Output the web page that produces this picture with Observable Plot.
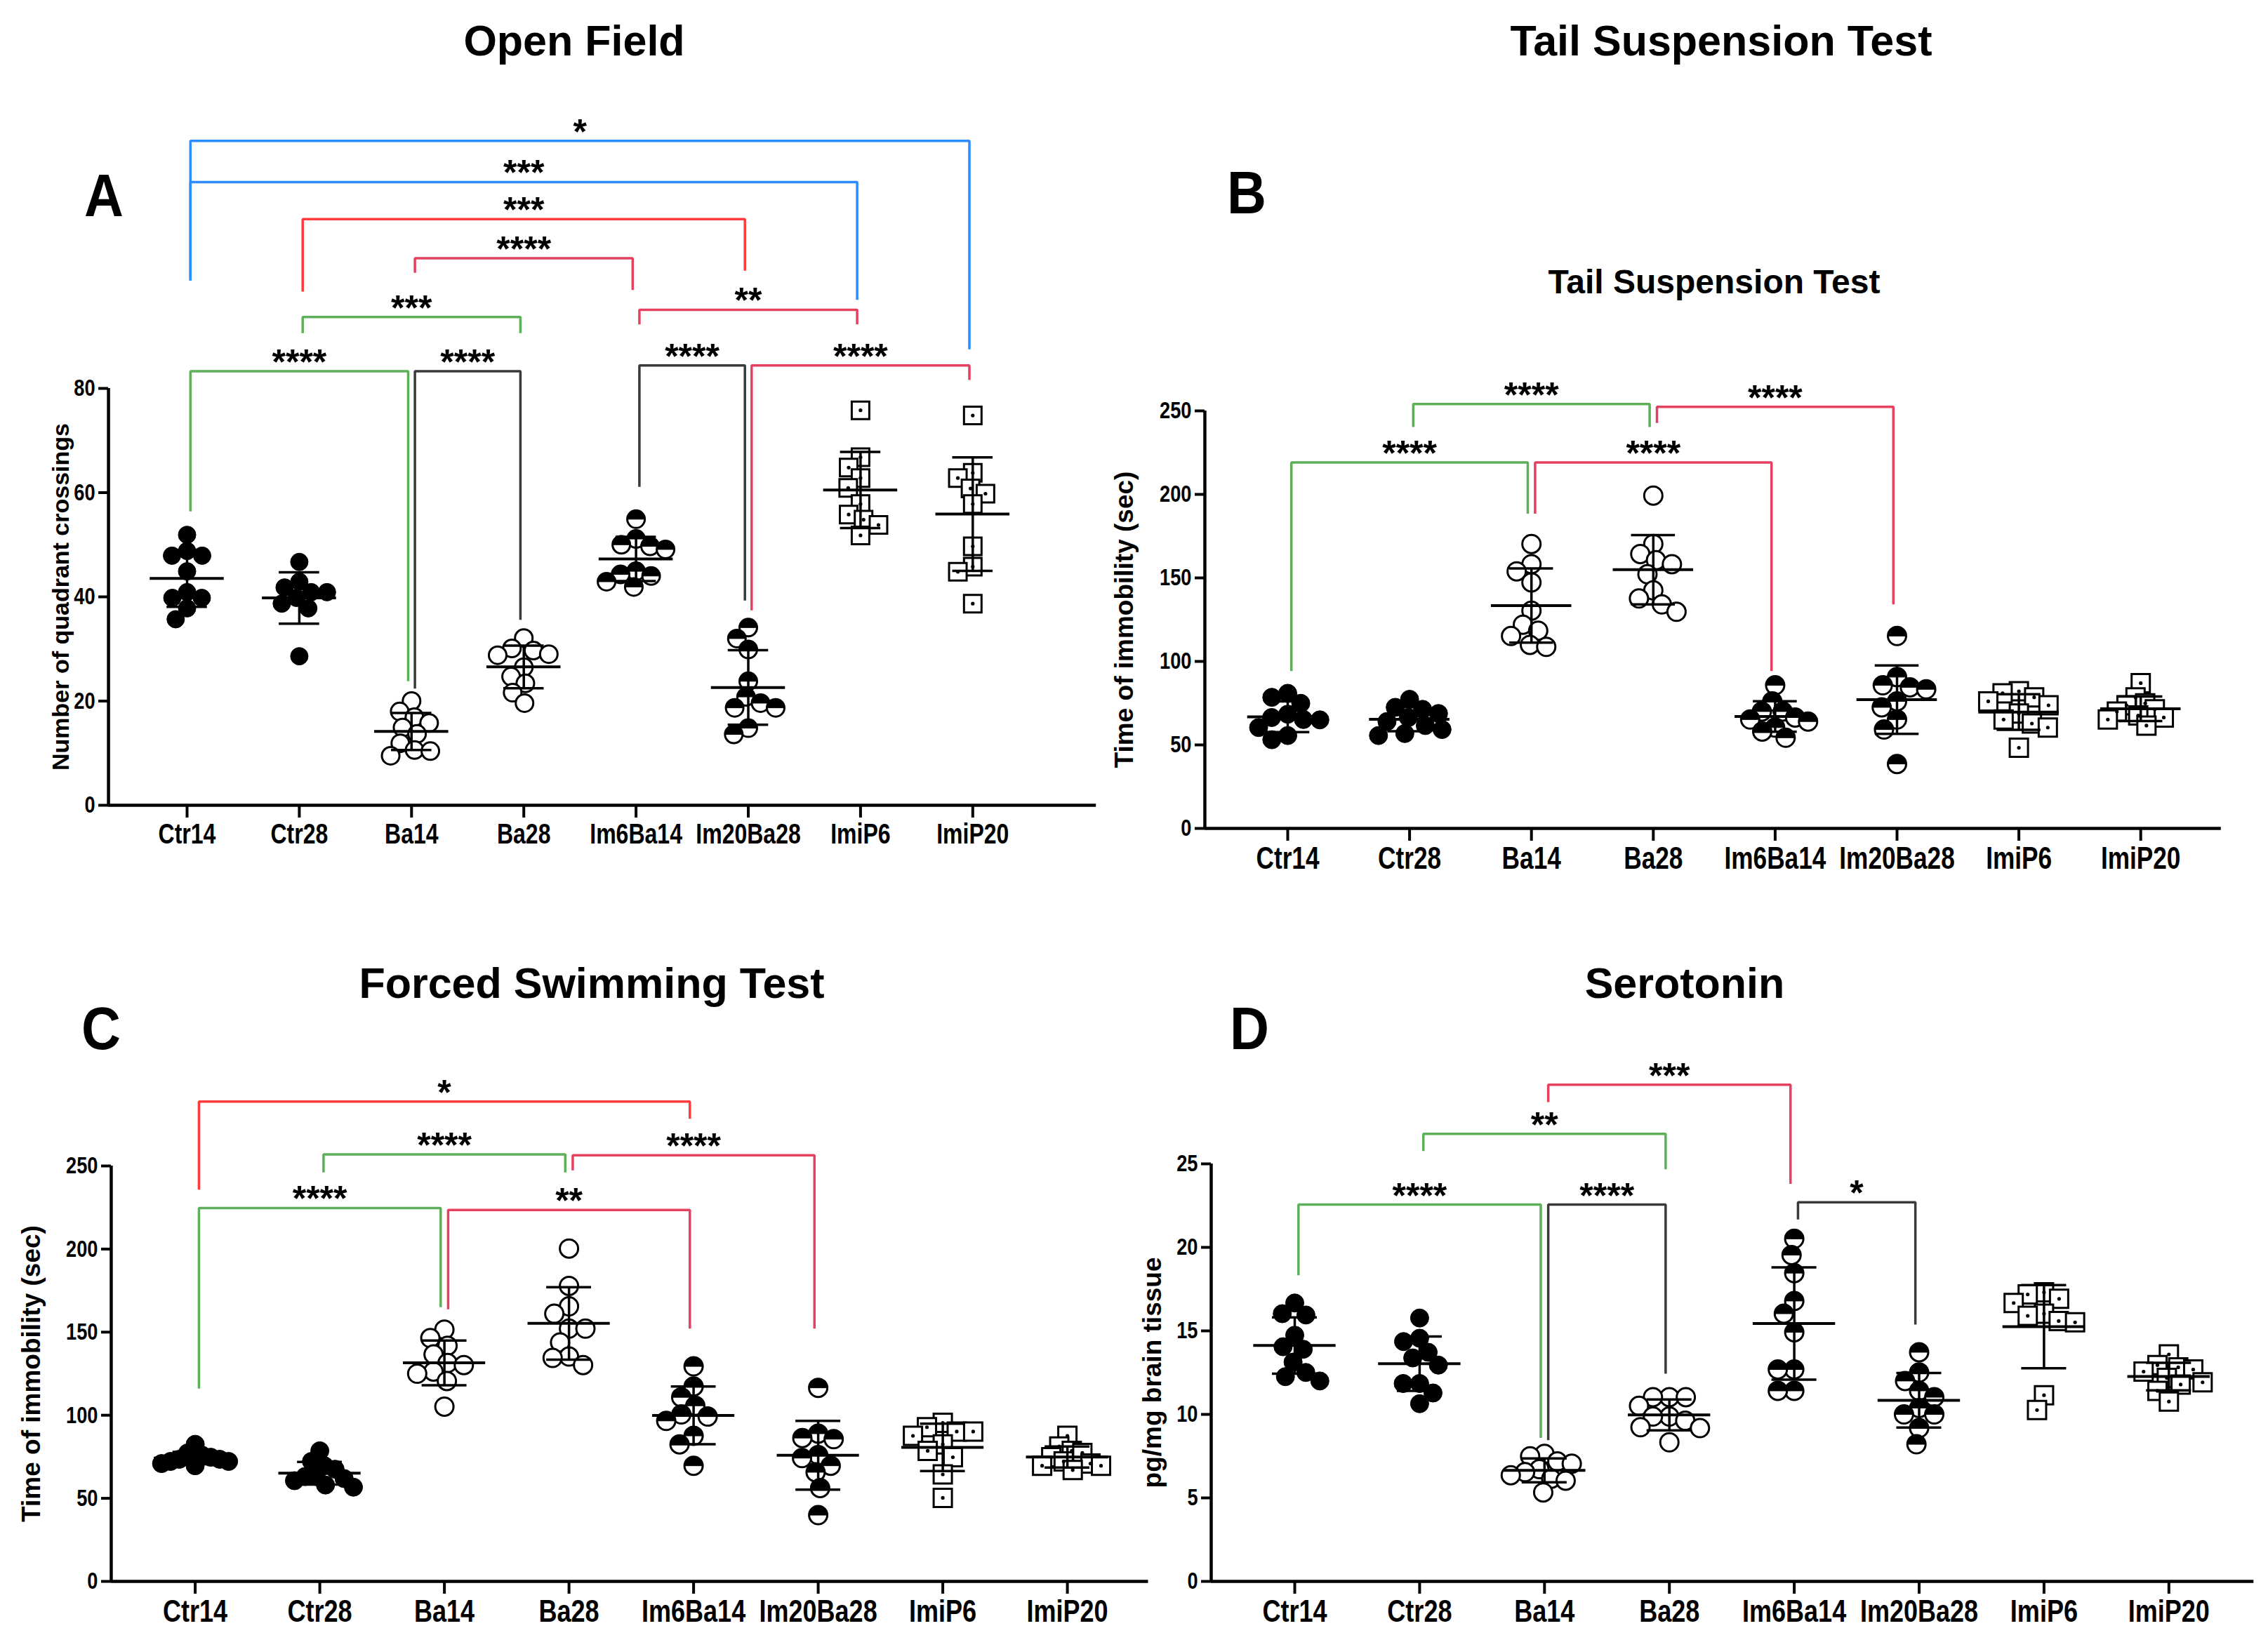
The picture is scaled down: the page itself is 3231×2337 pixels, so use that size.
<!DOCTYPE html>
<html><head><meta charset="utf-8">
<script src="https://cdn.jsdelivr.net/npm/d3@7"></script>
<script src="https://cdn.jsdelivr.net/npm/@observablehq/plot@0.6"></script>
<style>
html,body{margin:0;padding:0;background:#fff;}
#page{position:relative;width:3231px;height:2337px;overflow:hidden;background:#fff;}
.panel{position:absolute;}
.panel svg{overflow:visible;background:transparent;max-width:none;display:block;}
.ttl{position:absolute;transform:translate(-50%,-50%);font-family:"Liberation Sans",Arial,sans-serif;font-weight:bold;white-space:nowrap;line-height:1;color:#000;}
.letter{position:absolute;transform:translate(-50%,-50%) scaleX(0.9);font-family:"Liberation Sans",Arial,sans-serif;font-weight:bold;line-height:1;color:#000;font-size:86px;}
</style></head>
<body><div id="page"></div>
<script>
const groups = ["Ctr14","Ctr28","Ba14","Ba28","Im6Ba14","Im20Ba28","ImiP6","ImiP20"];

// Open Field: number of quadrant crossings
const openField = [
  [51.9, 48.8, 47.9, 47.9, 44.9, 40.9, 39.8, 39.8, 37.8, 35.7],
  [46.7, 42.9, 41.8, 40.9, 40.9, 39.8, 38.7, 37.8, 28.6],
  [20.0, 18.0, 16.9, 15.8, 14.9, 13.7, 11.9, 10.6, 10.4, 9.5],
  [32.1, 30.1, 29.7, 29.0, 28.8, 26.5, 24.7, 23.4, 21.6, 19.6],
  [54.9, 51.1, 50.0, 49.7, 49.1, 44.9, 44.3, 44.0, 42.9, 41.9],
  [34.1, 32.0, 29.9, 23.8, 20.8, 19.6, 18.7, 18.7, 14.8, 13.6],
  [75.8, 66.8, 64.8, 62.8, 60.9, 57.8, 55.8, 54.8, 53.8, 51.8],
  [74.8, 63.8, 62.8, 60.8, 59.8, 57.8, 49.7, 45.8, 44.8, 38.7]
];
// Tail suspension: time of immobility (sec)
const tailSuspension = [
  [80.9, 78.5, 74.9, 68.4, 66.4, 65.2, 65.0, 60.4, 55.6, 53.1],
  [77.3, 72.5, 71.3, 68.8, 66.4, 64.0, 61.6, 59.2, 56.8, 55.6],
  [170.3, 158.2, 153.9, 147.3, 130.4, 122.0, 118.4, 115.2, 109.9, 108.7],
  [199.3, 170.3, 164.3, 160.6, 158.2, 152.2, 142.5, 137.7, 134.1, 129.7],
  [85.7, 76.1, 70.0, 70.0, 66.4, 65.2, 64.0, 60.4, 58.0, 54.3],
  [115.2, 90.6, 85.7, 84.5, 83.3, 76.1, 72.5, 65.2, 59.2, 38.6],
  [82.1, 80.9, 78.5, 76.1, 73.7, 68.8, 65.2, 62.8, 60.4, 48.3],
  [87.0, 78.5, 74.9, 73.7, 71.3, 70.0, 67.6, 66.4, 65.2, 61.6]
];
// Forced swimming: time of immobility (sec)
const forcedSwim = [
  [82.5, 77.3, 76.0, 74.7, 73.5, 73.5, 72.2, 72.2, 70.9, 69.6],
  [78.6, 72.2, 69.6, 67.5, 63.1, 63.1, 61.9, 60.6, 58.0, 56.7],
  [151.5, 146.4, 141.8, 136.6, 131.4, 130.2, 126.3, 125.0, 120.6, 105.2],
  [200.3, 177.8, 165.5, 161.1, 152.1, 152.1, 143.8, 135.3, 134.5, 130.2],
  [129.4, 117.3, 110.8, 105.7, 100.5, 99.2, 96.6, 87.6, 82.5, 69.6],
  [116.5, 88.9, 86.3, 85.6, 76.0, 74.2, 69.6, 65.7, 56.2, 39.9],
  [95.4, 92.8, 90.2, 90.2, 87.6, 82.5, 78.6, 74.7, 64.4, 50.3],
  [87.6, 81.2, 78.6, 77.3, 74.7, 72.2, 70.9, 69.6, 69.6, 67.0]
];
// Serotonin: pg/mg brain tissue
const serotonin = [
  [16.67, 16.03, 15.95, 14.74, 14.05, 13.9, 13.13, 12.51, 12.26, 12.0],
  [15.77, 14.56, 14.36, 13.72, 13.38, 12.95, 11.85, 11.85, 11.28, 10.64],
  [7.64, 7.49, 7.18, 7.05, 6.72, 6.54, 6.36, 6.15, 6.03, 5.33],
  [11.03, 11.03, 11.03, 10.51, 9.87, 9.87, 9.62, 9.23, 9.18, 8.33],
  [20.51, 19.54, 18.46, 16.79, 16.03, 14.92, 12.69, 12.69, 11.41, 11.41],
  [13.72, 12.51, 12.0, 11.41, 11.03, 10.38, 10.0, 10.0, 9.18, 8.21],
  [17.31, 17.18, 16.92, 16.67, 16.03, 15.9, 15.59, 15.51, 11.15, 10.26],
  [13.59, 12.95, 12.82, 12.69, 12.56, 12.18, 11.92, 11.79, 11.41, 10.77]
];

// Significance brackets: [from, to, bar level, left leg end, right leg end, label, comparison type]
const openFieldBrackets = [
  ["Ctr14","ImiP20",127.5,100.7,87.5,"*","imi"],
  ["Ctr14","ImiP6",119.6,100.7,97.0,"***","imi"],
  ["Ctr28","Im20Ba28",112.5,98.6,102.6,"***","treatA"],
  ["Ba14","Im6Ba14",105.0,102.2,98.9,"****","treat"],
  ["Ctr28","Ba28",93.7,90.6,90.6,"***","ctrl"],
  ["Im6Ba14","ImiP6",95.1,92.3,92.3,"**","treat"],
  ["Ctr14","Ba14",83.3,56.4,23.8,"****","ctrl"],
  ["Ba14","Ba28",83.3,22.4,35.6,"****","pair"],
  ["Im6Ba14","Im20Ba28",84.4,61.1,39.3,"****","pair"],
  ["Im20Ba28","ImiP20",84.4,37.4,81.6,"****","treat"]
];
const tailBrackets = [
  ["Ctr14","Ba14",219.1,94.2,188.4,"****","ctrl"],
  ["Ba14","Im6Ba14",219.1,188.4,94.2,"****","treat"],
  ["Ctr28","Ba28",254.1,240.3,240.3,"****","ctrl"],
  ["Ba28","Im20Ba28",252.4,242.8,134.1,"****","treat"]
];
const swimBrackets = [
  ["Ctr14","Im6Ba14",288.7,235.8,278.4,"*","treatA"],
  ["Ctr28","Ba28",257.0,246.1,246.1,"****","ctrl"],
  ["Ba28","Im20Ba28",256.4,247.4,152.1,"****","treat"],
  ["Ctr14","Ba14",224.7,116.0,165.0,"****","ctrl"],
  ["Ba14","Im6Ba14",223.5,163.7,152.1,"**","treat"]
];
const serotoninBrackets = [
  ["Ba14","Im6Ba14",29.74,28.7,23.8,"***","treat"],
  ["Ctr28","Ba28",26.8,25.77,24.67,"**","ctrl"],
  ["Ctr14","Ba14",22.56,18.33,8.59,"****","ctrl"],
  ["Ba14","Ba28",22.56,8.46,12.44,"****","pair"],
  ["Im6Ba14","Im20Ba28",22.7,21.67,15.38,"*","pair"]
];

const bracketColor = {ctrl:"#5daf5a", treat:"#e5405f", treatA:"#ff3b3b", imi:"#2d8cff", pair:"#3a3a3a"};
const FONT = '"Liberation Sans",Arial,sans-serif';

const halfTop = {draw(ctx, size){ const r = Math.sqrt(size/Math.PI); ctx.moveTo(r,0); ctx.arc(0,0,r,0,Math.PI,true); ctx.closePath(); }};
const squareSym = {draw(ctx, size){ const s = Math.sqrt(size/Math.PI); ctx.rect(-s,-s,2*s,2*s); }};

function kindOf(name){
  if (name.startsWith("ImiP")) return "square";
  if (name.startsWith("Ctr")) return "filled";
  if (name.startsWith("Ba")) return "open";
  return "half";
}

const page = document.getElementById("page");

function addText(cls, txt, x, y, size){
  const d = document.createElement("div");
  d.className = cls; d.textContent = txt;
  d.style.left = x+"px"; d.style.top = y+"px";
  if (size) d.style.fontSize = size+"px";
  page.appendChild(d);
}

function panel(cfg){
  const {left, top, width, height, x0, sp, xmin, xmax, yTop, yBottom, domain, ticks, data, brackets, r, xFont, yTitle, yTitleX, yTitleFont} = cfg;
  const marginLeft = x0 + xmin*sp - left;
  const marginRight = left + width - (x0 + xmax*sp);
  const marginTop = yTop - top;
  const marginBottom = top + height - yBottom;
  const pxY = (yBottom - yTop)/(domain[1]-domain[0]);
  const cap = 0.27*sp;

  // beeswarm placement of points (pixel space -> category units)
  const pts = [];
  const stats = [];
  data.forEach((vals, gi) => {
    const placed = [];
    const D = 2*r*0.9;
    const sorted = vals.slice().sort((a,b)=>b-a);
    for (const v of sorted){
      const py = -v*pxY;
      const near = placed.filter(p => Math.abs(p.py-py) < D);
      const cands = [0];
      for (const p of near){ const dx = Math.sqrt(D*D - (p.py-py)**2); cands.push(p.px+dx, p.px-dx); }
      cands.sort((a,b)=>Math.abs(a)-Math.abs(b) || a-b);
      const px = cands.find(c => near.every(p => Math.hypot(p.px-c, p.py-py) >= D-1e-6));
      placed.push({px, py, v});
    }
    const maxOff = d3.max(placed, p => Math.abs(p.px));
    const k = maxOff > cap ? cap/maxOff : 1;
    for (const p of placed) pts.push({gi, kind: kindOf(groups[gi]), value: p.v, x: gi + p.px*k/sp});
    stats.push({gi, mean: d3.mean(vals), sd: d3.deviation(vals)});
  });

  const bpts = [];
  const blabels = [];
  brackets.forEach((b, k) => {
    const [from, to, lvl, le, re, label, type] = b;
    const i = groups.indexOf(from), j = groups.indexOf(to);
    const xl = i + 0.03, xr = j - 0.03;
    bpts.push({id:k, x:xl, y:le, c:bracketColor[type]}, {id:k, x:xl, y:lvl, c:bracketColor[type]},
              {id:k, x:xr, y:lvl, c:bracketColor[type]}, {id:k, x:xr, y:re, c:bracketColor[type]});
    blabels.push({x:(i+j)/2, y:lvl, label});
  });

  const sel = k => pts.filter(p => p.kind === k);

  const svg = Plot.plot({
    width, height, marginLeft, marginRight, marginTop, marginBottom,
    style: {background: "transparent", overflow: "visible", fontFamily: FONT, color: "black"},
    x: {domain: [xmin, xmax]},
    y: {domain},
    color: {type: "identity"},
    marks: [
      Plot.line(bpts, {x:"x", y:"y", z:"id", stroke:"c", strokeWidth:3.5, strokeLinejoin:"miter", strokeLinecap:"butt"}),
      Plot.text(blabels, {x:"x", y:"y", text:"label", lineAnchor:"bottom", dy:4, fontSize:50, fontWeight:"bold", fontFamily:FONT, fill:"black"}),
      Plot.dot(sel("filled"), {x:"x", y:"value", r, fill:"black", stroke:"black", strokeWidth:1}),
      Plot.dot(sel("open"), {x:"x", y:"value", r, fill:"white", stroke:"black", strokeWidth:3}),
      Plot.dot(sel("half"), {x:"x", y:"value", r, fill:"white", stroke:"black", strokeWidth:3}),
      Plot.dot(sel("half"), {x:"x", y:"value", r, symbol: halfTop, fill:"black", stroke:"black", strokeWidth:1}),
      Plot.dot(sel("square"), {x:"x", y:"value", r, symbol: squareSym, fill:"white", stroke:"black", strokeWidth:3}),
      Plot.dot(sel("square"), {x:"x", y:"value", r:2.6, fill:"black"}),
      Plot.ruleX(stats, {x:"gi", y1:d=>d.mean-d.sd, y2:d=>d.mean+d.sd, stroke:"black", strokeWidth:3.5}),
      Plot.ruleY(stats, {y:"mean", x1:d=>d.gi-0.33, x2:d=>d.gi+0.33, stroke:"black", strokeWidth:4}),
      Plot.ruleY(stats, {y:d=>d.mean+d.sd, x1:d=>d.gi-0.18, x2:d=>d.gi+0.18, stroke:"black", strokeWidth:3.5}),
      Plot.ruleY(stats, {y:d=>d.mean-d.sd, x1:d=>d.gi-0.18, x2:d=>d.gi+0.18, stroke:"black", strokeWidth:3.5}),
      Plot.ruleX([xmin], {y1:domain[0], y2:domain[1], stroke:"black", strokeWidth:4.5}),
      Plot.ruleY([domain[0]], {x1:xmin, x2:xmax, stroke:"black", strokeWidth:4.5}),
      Plot.axisY({ticks, tickSize:14, tickPadding:5, fontSize:34, fontWeight:"bold", strokeWidth:4, label:null, fontFamily:FONT}),
      Plot.axisX({ticks: d3.range(groups.length), tickFormat: i => groups[i], tickSize:18, tickPadding:8, fontSize:xFont, fontWeight:"bold", strokeWidth:4, label:null, fontFamily:FONT}),
      Plot.text([yTitle], {frameAnchor:"left", textAnchor:"middle", lineAnchor:"middle", dx: yTitleX - (x0 + xmin*sp), rotate:-90, fontSize:yTitleFont, fontWeight:"bold", fontFamily:FONT, fill:"black"})
    ]
  });
  const div = document.createElement("div");
  div.className = "panel";
  div.style.left = left+"px"; div.style.top = top+"px";
  div.appendChild(svg);
  page.appendChild(div);
  // condensed look for tick labels (narrow bold face)
  svg.querySelectorAll('g[aria-label="x-axis tick label"] text, g[aria-label="y-axis tick label"] text').forEach(t => {
    const L = t.getComputedTextLength();
    if (L > 0) { t.setAttribute("textLength", (L*0.8).toFixed(1)); t.setAttribute("lengthAdjust", "spacingAndGlyphs"); }
  });
}

panel({left:0, top:0, width:1580, height:1250, x0:266, sp:159.9, xmin:-0.7, xmax:8.1, yTop:553, yBottom:1147,
  domain:[0,80], ticks:[0,20,40,60,80], data:openField, brackets:openFieldBrackets, r:12.5, xFont:40,
  yTitle:"Number of quadrant crossings", yTitleX:87, yTitleFont:34});
panel({left:1580, top:0, width:1651, height:1250, x0:1834, sp:173.6, xmin:-0.68, xmax:7.66, yTop:585, yBottom:1180,
  domain:[0,250], ticks:[0,50,100,150,200,250], data:tailSuspension, brackets:tailBrackets, r:13, xFont:44,
  yTitle:"Time of immobility (sec)", yTitleX:1602, yTitleFont:37});
panel({left:0, top:1300, width:1650, height:1037, x0:277.6, sp:177.5, xmin:-0.674, xmax:7.65, yTop:1661, yBottom:2253,
  domain:[0,250], ticks:[0,50,100,150,200,250], data:forcedSwim, brackets:swimBrackets, r:13, xFont:45,
  yTitle:"Time of immobility (sec)", yTitleX:45, yTitleFont:37});
panel({left:1600, top:1300, width:1631, height:1037, x0:1844, sp:177.9, xmin:-0.669, xmax:7.68, yTop:1658, yBottom:2253,
  domain:[0,25], ticks:[0,5,10,15,20,25], data:serotonin, brackets:serotoninBrackets, r:13, xFont:45,
  yTitle:"pg/mg brain tissue", yTitleX:1642, yTitleFont:37});

addText("ttl", "Open Field", 818, 58, 61);
addText("ttl", "Tail Suspension Test", 2452, 58, 61);
addText("ttl", "Tail Suspension Test", 2442, 402, 48);
addText("ttl", "Forced Swimming Test", 843, 1401, 61);
addText("ttl", "Serotonin", 2400, 1401, 61);
addText("letter", "A", 148, 278);
addText("letter", "B", 1776, 274);
addText("letter", "C", 144, 1465);
addText("letter", "D", 1780, 1465);
</script>
</body></html>
